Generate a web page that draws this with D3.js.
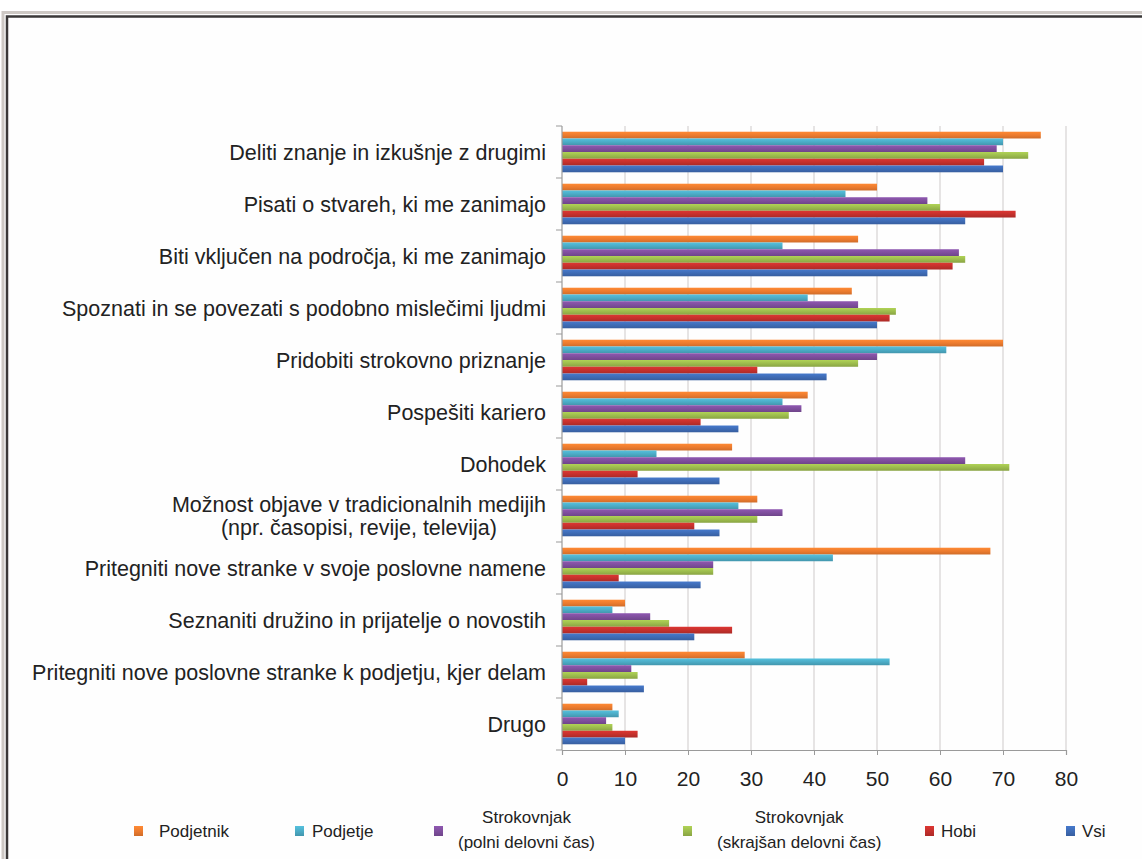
<!DOCTYPE html>
<html>
<head>
<meta charset="utf-8">
<script src="https://cdn.jsdelivr.net/npm/d3@7"></script>
<style>
  html, body { margin: 0; padding: 0; background: #ffffff; }
  svg { display: block; }
  text { font-family: "Liberation Sans", Arial, sans-serif; fill: #222; }
</style>
</head>
<body>
<svg id="chart" width="1142" height="859"></svg>
<script>
// ---------- DATA ----------
const categories = [
  "Deliti znanje in izkušnje z drugimi",
  "Pisati o stvareh, ki me zanimajo",
  "Biti vključen na področja, ki me zanimajo",
  "Spoznati in se povezati s podobno mislečimi ljudmi",
  "Pridobiti strokovno priznanje",
  "Pospešiti kariero",
  "Dohodek",
  "Možnost objave v tradicionalnih medijih\n(npr. časopisi, revije, televija)",
  "Pritegniti nove stranke v svoje poslovne namene",
  "Seznaniti družino in prijatelje o novostih",
  "Pritegniti nove poslovne stranke k podjetju, kjer delam",
  "Drugo"
];
const seriesNames = [
  "Podjetnik",
  "Podjetje",
  "Strokovnjak\n(polni delovni čas)",
  "Strokovnjak\n(skrajšan delovni čas)",
  "Hobi",
  "Vsi"
];
const podjetnik = [76, 50, 47, 46, 70, 39, 27, 31, 68, 10, 29, 8];
const podjetje  = [70, 45, 35, 39, 61, 35, 15, 28, 43,  8, 52, 9];
const polni     = [69, 58, 63, 47, 50, 38, 64, 35, 24, 14, 11, 7];
const skrajsan  = [74, 60, 64, 53, 47, 36, 71, 31, 24, 17, 12, 8];
const hobi      = [67, 72, 62, 52, 31, 22, 12, 21,  9, 27,  4, 12];
const vsi       = [70, 64, 58, 50, 42, 28, 25, 25, 22, 21, 13, 10];
const xTicks = [0, 10, 20, 30, 40, 50, 60, 70, 80];

// ---------- STYLE / LAYOUT ----------
const seriesValues = [podjetnik, podjetje, polni, skrajsan, hobi, vsi];
const colors = ["#EA7A2E", "#4BAAC4", "#7E4E9C", "#9BBA4C", "#C3302C", "#3E6BB4"];

const svg = d3.select("#chart");
const plot = { left: 562, right: 1066, top: 126, bottom: 750 };

// frame
svg.append("rect").attr("x", 3).attr("y", 12.5).attr("width", 1200).attr("height", 900)
  .attr("fill", "none").attr("stroke", "#cdc8c4").attr("stroke-width", 3);
svg.append("rect").attr("x", 7).attr("y", 16.5).attr("width", 1200).attr("height", 900)
  .attr("fill", "#fefefe").attr("stroke", "#3a3838").attr("stroke-width", 2.5);

// gradients for slight 3D look
const defs = svg.append("defs");
colors.forEach((c, i) => {
  const g = defs.append("linearGradient").attr("id", "g" + i)
    .attr("x1", 0).attr("y1", 0).attr("x2", 0).attr("y2", 1);
  g.append("stop").attr("offset", "0%").attr("stop-color", d3.color(c).brighter(0.35));
  g.append("stop").attr("offset", "55%").attr("stop-color", c);
  g.append("stop").attr("offset", "100%").attr("stop-color", d3.color(c).darker(0.35));
});

const x = d3.scaleLinear().domain([0, 80]).range([plot.left, plot.right]);
const y0 = d3.scaleBand().domain(categories).range([plot.top, plot.bottom])
  .paddingInner(0.22).paddingOuter(0.11);
const y1 = d3.scaleBand().domain(d3.range(seriesNames.length)).range([0, y0.bandwidth()]);

// gridlines
svg.append("g").selectAll("line").data(xTicks.slice(1)).join("line")
  .attr("x1", d => x(d)).attr("x2", d => x(d))
  .attr("y1", plot.top).attr("y2", plot.bottom)
  .attr("stroke", "#d6d2d2").attr("stroke-width", 1.2);

// bars
const groups = svg.append("g").selectAll("g").data(categories).join("g")
  .attr("transform", d => `translate(0,${y0(d)})`);
groups.selectAll("rect")
  .data((d, ci) => seriesValues.map((arr, si) => ({ si, v: arr[ci] })))
  .join("rect")
  .attr("x", x(0))
  .attr("y", d => y1(d.si))
  .attr("width", d => x(d.v) - x(0))
  .attr("height", y1.bandwidth())
  .attr("fill", d => `url(#g${d.si})`);

// x axis
const xAxis = svg.append("g").attr("transform", `translate(0,${plot.bottom})`)
  .call(d3.axisBottom(x).tickValues(xTicks).tickSize(5).tickPadding(16));
xAxis.select(".domain").attr("stroke", "#9a9a9a").attr("stroke-width", 1.2);
xAxis.selectAll(".tick line").attr("stroke", "#9a9a9a");
xAxis.selectAll(".tick text").attr("font-size", 21).attr("fill", "#222")
  .attr("font-family", "Liberation Sans, Arial, sans-serif");

// y axis line and ticks at band boundaries
svg.append("line").attr("x1", plot.left).attr("x2", plot.left)
  .attr("y1", plot.top).attr("y2", plot.bottom)
  .attr("stroke", "#9a9a9a").attr("stroke-width", 1.2);
const step = y0.step();
svg.append("g").selectAll("line").data(d3.range(categories.length + 1)).join("line")
  .attr("x1", plot.left - 6).attr("x2", plot.left)
  .attr("y1", i => plot.top + i * step).attr("y2", i => plot.top + i * step)
  .attr("stroke", "#9a9a9a");

// category labels
const labelRight = 546;
const lineH = 23;
categories.forEach(cat => {
  const lines = cat.split("\n");
  const cy = y0(cat) + y0.bandwidth() / 2;
  const t = svg.append("text").attr("font-size", 21.5);
  if (lines.length === 1) {
    t.attr("x", labelRight).attr("y", cy + 7.5).attr("text-anchor", "end").text(cat);
  } else {
    const spans = lines.map((ln, i) => t.append("tspan")
      .attr("y", cy + 7.5 + (i - (lines.length - 1) / 2) * lineH).text(ln));
    const maxW = d3.max(spans, s => s.node().getComputedTextLength());
    const cx = labelRight - maxW / 2;
    spans.forEach(s => s.attr("x", cx).attr("text-anchor", "middle"));
  }
});

// legend
const legendMarkerX = [134, 295, 434, 683, 925, 1066];
const legendGap = [16, 8, 15, 25, 7, 7];
const legCy = 831;
seriesNames.forEach((name, i) => {
  const mx = legendMarkerX[i];
  svg.append("rect").attr("x", mx).attr("y", legCy - 5).attr("width", 9).attr("height", 10)
    .attr("fill", `url(#g${i})`);
  const lines = name.split("\n");
  const t = svg.append("text").attr("font-size", 17);
  const tx = mx + 9 + legendGap[i];
  if (lines.length === 1) {
    t.attr("x", tx).attr("y", legCy + 6).text(name);
  } else {
    const spans = lines.map((ln, k) => t.append("tspan").attr("y", legCy - 8 + k * 25).text(ln));
    const maxW = d3.max(spans, s => s.node().getComputedTextLength());
    spans.forEach(s => s.attr("x", tx + maxW / 2).attr("text-anchor", "middle"));
  }
});
</script>
</body>
</html>
